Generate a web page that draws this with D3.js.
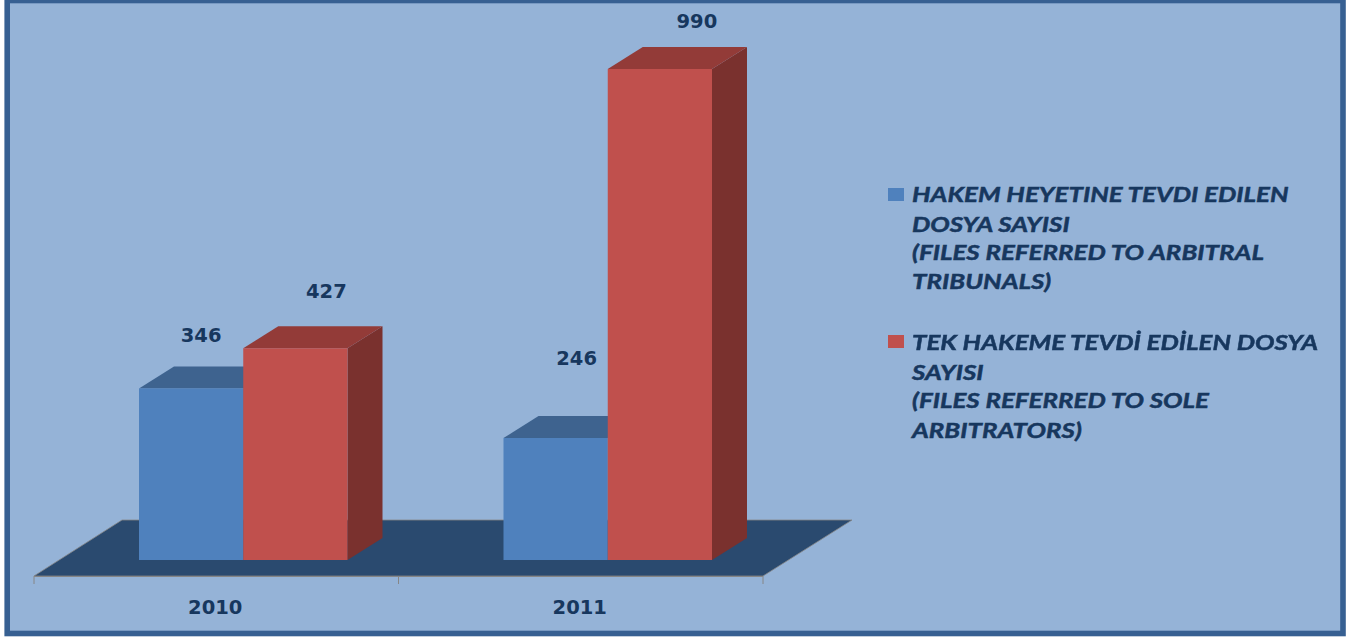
<!DOCTYPE html>
<html>
<head>
<meta charset="utf-8">
<script src="https://d3js.org/d3.v7.min.js"></script>
<style>
  html, body { margin: 0; padding: 0; background: #fff; }
  svg { display: block; filter: blur(0.4px); }
</style>
</head>
<body>
<svg id="chart" width="1354" height="637"></svg>
<script>
  // ---------------------------
  // Data
  // ---------------------------
  var years = ["2010", "2011"];
  var seriesNames = ["arbitralTribunals", "soleArbitrators"];
  var tribunalFiles = [346, 246];
  var soleFiles = [427, 990];
  var legendTribunal = ["HAKEM HEYETINE TEVDI EDILEN", "DOSYA SAYISI", "(FILES REFERRED TO ARBITRAL", "TRIBUNALS)"];
  var legendSole = ["TEK HAKEME TEVDİ EDİLEN DOSYA", "SAYISI", "(FILES REFERRED TO SOLE", "ARBITRATORS)"];

  // ---------------------------
  // Constants
  // ---------------------------
  var textColour = "#17375e";
  var faceColours = ["#4f81bd", "#c0504d"];
  var topColours = ["#3e638f", "#933b38"];
  var sideColours = ["#3a5c85", "#7a312e"];
  var floorColour = "#2a4a6f";
  var axisColour = "#868686";
  var depthX = 35, depthY = -22;
  var baseY = 560;
  // value labels were placed by hand in the original: [series][year] -> [dx, dy] from bar top centre
  var labelShift = [
    [[10, -46], [21, -73]],
    [[31, -50], [37, -41]]
  ];

  var svg = d3.select("#chart");

  // frame
  svg.append("rect")
    .attr("x", 7.2).attr("y", 0.5)
    .attr("width", 1335.8).attr("height", 633)
    .attr("fill", "#95b3d7")
    .attr("stroke", "#376092")
    .attr("stroke-width", 5.6);

  // scales
  var x0 = d3.scaleBand().domain(years).range([34, 763]);
  var x1 = d3.scaleBand().domain(seriesNames).range([105, 313.5]);
  var y = d3.scaleLinear().domain([0, 990]).range([baseY, 69]);

  function poly(points) { return "M" + points.map(function(p) { return p.join(","); }).join("L") + "Z"; }

  // floor
  svg.append("path")
    .attr("d", poly([[34, 576], [763, 576], [852, 520], [122, 520]]))
    .attr("fill", floorColour)
    .attr("stroke", axisColour)
    .attr("stroke-width", 0.8);

  // x axis
  var axisLine = svg.append("g").attr("stroke", axisColour).attr("stroke-width", 1);
  axisLine.append("line").attr("x1", 34).attr("x2", 763).attr("y1", 576.5).attr("y2", 576.5);
  years.concat(["end"]).forEach(function(d, i) {
    var tx = i < years.length ? x0(d) : x0.range()[1];
    axisLine.append("line").attr("x1", tx).attr("x2", tx).attr("y1", 576).attr("y2", 584);
  });

  var labelFont = "'DejaVu Sans', sans-serif";
  svg.append("g").selectAll("text").data(years).enter().append("text")
    .attr("x", function(d) { return x0(d) + x0.bandwidth() / 2 - 1; })
    .attr("y", 614)
    .attr("text-anchor", "middle")
    .attr("font-family", labelFont)
    .attr("font-weight", "bold")
    .attr("font-size", 19.5)
    .attr("fill", textColour)
    .text(function(d) { return d; });

  // bars
  var seriesValues = [tribunalFiles, soleFiles];
  years.forEach(function(year, c) {
    seriesNames.forEach(function(name, s) {
      var v = seriesValues[s][c];
      var left = x0(year) + x1(name);
      var right = left + x1.bandwidth();
      var top = y(v);
      var g = svg.append("g");
      g.append("path")
        .attr("d", poly([[right, top], [right + depthX, top + depthY], [right + depthX, baseY + depthY], [right, baseY]]))
        .attr("fill", sideColours[s]);
      g.append("path")
        .attr("d", poly([[left, top], [left + depthX, top + depthY], [right + depthX, top + depthY], [right, top]]))
        .attr("fill", topColours[s]);
      g.append("rect")
        .attr("x", left).attr("y", top)
        .attr("width", x1.bandwidth()).attr("height", baseY - top)
        .attr("fill", faceColours[s]);
      g.append("text")
        .attr("x", (left + right) / 2 + labelShift[s][c][0])
        .attr("y", top + labelShift[s][c][1])
        .attr("text-anchor", "middle")
        .attr("font-family", labelFont)
        .attr("font-weight", "bold")
        .attr("font-size", 19.5)
        .attr("fill", textColour)
        .text(v);
    });
  });

  // legend
  function drawLegend(lines, colour, swatchY, baselines) {
    svg.append("rect")
      .attr("x", 888).attr("y", swatchY)
      .attr("width", 16).attr("height", 13)
      .attr("fill", colour);
    svg.append("g").selectAll("text").data(lines).enter().append("text")
      .attr("transform", function(d, i) { return "translate(912," + baselines[i] + ") scale(1.205,1)"; })
      .attr("font-family", "Lato, sans-serif")
      .attr("font-weight", "bold")
      .attr("font-style", "italic")
      .attr("font-size", 21.5)
      .attr("fill", textColour)
      .attr("stroke", textColour)
      .attr("stroke-width", 0.5)
      .text(function(d) { return d; });
  }
  drawLegend(legendTribunal, faceColours[0], 188, [202, 232, 260, 289]);
  drawLegend(legendSole, faceColours[1], 335, [350, 380, 408, 438]);
</script>
</body>
</html>
